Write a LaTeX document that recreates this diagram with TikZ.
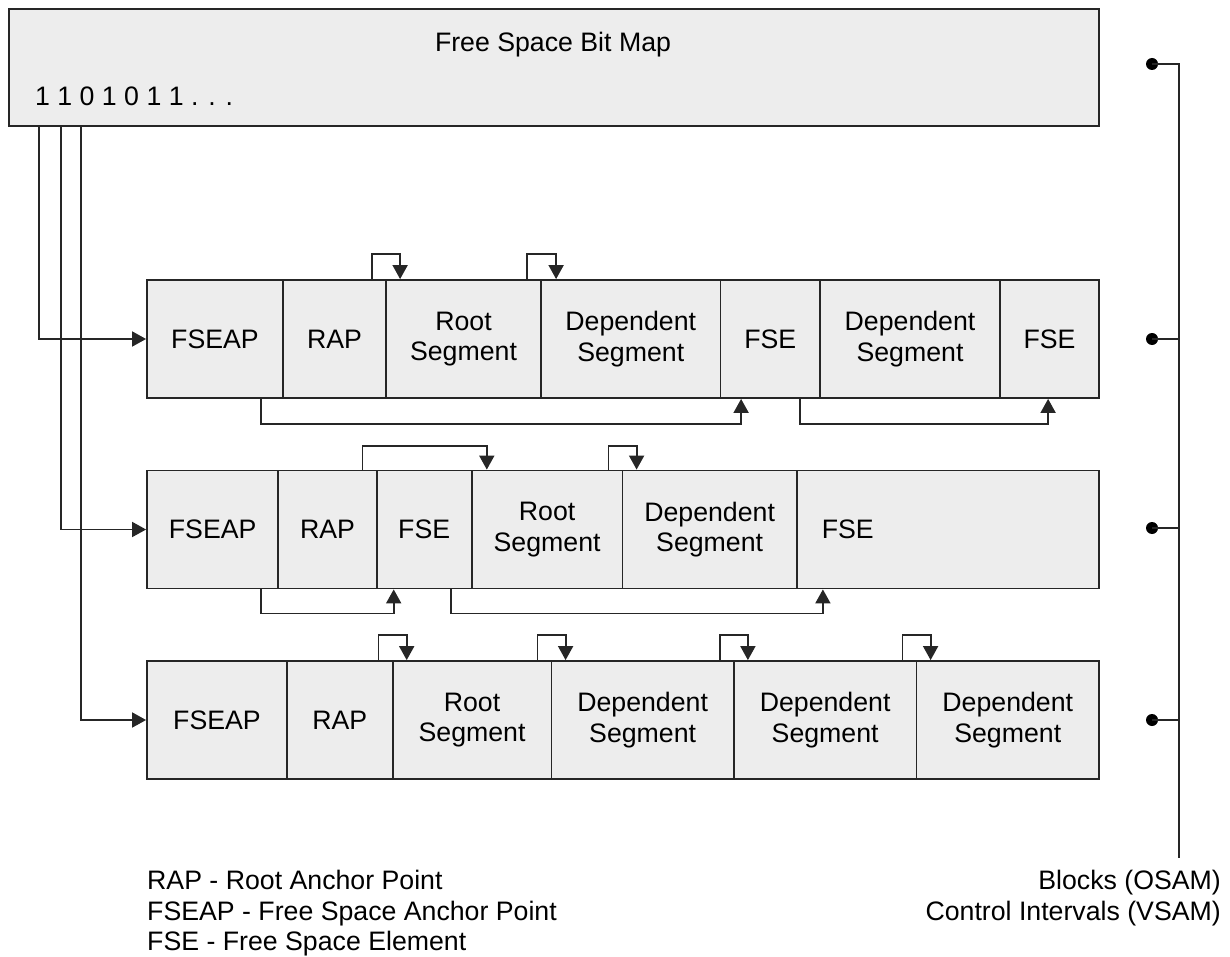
\documentclass[tikz,border=0pt]{standalone}
\usepackage{fontspec}
\setmainfont{Liberation Sans}
\usetikzlibrary{arrows.meta}
\definecolor{cellfill}{HTML}{EDEDED}
\definecolor{ink}{HTML}{262626}
\begin{document}
\begin{tikzpicture}[x=1pt,y=-1pt,
  every node/.style={font=\fontsize{26.7}{30.5}\selectfont, text=black},
  cell/.style={draw=ink, line width=1.8pt, fill=cellfill, inner sep=0pt,
               align=center, minimum height=118pt},
  link/.style={draw=ink, line width=1.8pt},
  arr/.style={link, -{Triangle[length=14pt,width=15pt]}},
  dot/.style={circle, fill=black, inner sep=0pt, minimum size=12pt},
]
\useasboundingbox (0,0) rectangle (1230,957);

% free space bit map
\node[cell, minimum width=1090pt, minimum height=117pt] (bitmap) at (554,67.5) {};
\node[anchor=base] (title) at (553,51.5) {Free Space Bit Map};
\node[anchor=base west, inner sep=0pt] (bits) at (35,106) {1 1 0 1 0 1 1 . . .};

% first block
\node[cell, minimum width=136pt]   (r1a) at (215,339)    {FSEAP};
\node[cell, minimum width=103pt]   (r1b) at (334.5,339)  {RAP};
\node[cell, minimum width=155pt]   (r1c) at (463.5,339)  {Root\\Segment};
\node[cell, minimum width=179.5pt] (r1d) at (630.75,339) {Dependent\\Segment};
\node[cell, minimum width=99.5pt]  (r1e) at (770.25,339) {FSE};
\node[cell, minimum width=180pt]   (r1f) at (910,339)    {Dependent\\Segment};
\node[cell, minimum width=99pt]    (r1g) at (1049.5,339) {FSE};

% second block
\node[cell, minimum width=131.3pt] (r2a) at (212.65,529.5) {FSEAP};
\node[cell, minimum width=98.3pt]  (r2b) at (327.45,529.5) {RAP};
\node[cell, minimum width=95.1pt]  (r2c) at (424.15,529.5) {FSE};
\node[cell, minimum width=150.8pt] (r2d) at (547.1,529.5)  {Root\\Segment};
\node[cell, minimum width=174.3pt] (r2e) at (709.65,529.5) {Dependent\\Segment};
\node[cell, minimum width=302.2pt, text width=252.2pt, inner xsep=25pt,
      align=left] (r2f) at (947.9,529.5) {FSE};

% third block
\node[cell, minimum width=140pt]   (r3a) at (217,720)     {FSEAP};
\node[cell, minimum width=105.6pt] (r3b) at (339.8,720)   {RAP};
\node[cell, minimum width=158.9pt] (r3c) at (472.05,720)  {Root\\Segment};
\node[cell, minimum width=182.3pt] (r3d) at (642.65,720)  {Dependent\\Segment};
\node[cell, minimum width=182.7pt] (r3e) at (825.15,720)  {Dependent\\Segment};
\node[cell, minimum width=182.5pt] (r3f) at (1007.75,720) {Dependent\\Segment};

% bit map feeds into each block
\draw[arr] ([xshift=31pt]bitmap.south west) |- (r1a.west);
\draw[arr] ([xshift=53pt]bitmap.south west) |- (r2a.west);
\draw[arr] ([xshift=73pt]bitmap.south west) |- (r3a.west);

% pointer chains above the blocks
\draw[arr] ([xshift=-15pt]r1b.north east) -- ++(0,-25) -| ([xshift=15pt]r1c.north west);
\draw[arr] ([xshift=-15pt]r1c.north east) -- ++(0,-25) -| ([xshift=16pt]r1d.north west);
\draw[arr] ([xshift=-15pt]r2b.north east) -- ++(0,-24) -| ([xshift=16pt]r2d.north west);
\draw[arr] ([xshift=-15pt]r2d.north east) -- ++(0,-24) -| ([xshift=15pt]r2e.north west);
\draw[arr] ([xshift=-15pt]r3b.north east) -- ++(0,-25) -| ([xshift=15pt]r3c.north west);
\draw[arr] ([xshift=-15pt]r3c.north east) -- ++(0,-25) -| ([xshift=15pt]r3d.north west);
\draw[arr] ([xshift=-15pt]r3d.north east) -- ++(0,-25) -| ([xshift=15pt]r3e.north west);
\draw[arr] ([xshift=-15pt]r3e.north east) -- ++(0,-25) -| ([xshift=15pt]r3f.north west);

% free space chains below the blocks
\draw[arr] ([xshift=-23pt]r1a.south east) -- ++(0,25) -| ([xshift=21.5pt]r1e.south west);
\draw[arr] ([xshift=-21pt]r1e.south east) -- ++(0,25) -| ([xshift=49pt]r1g.south west);
\draw[arr] ([xshift=-18pt]r2a.south east) -- ++(0,24) -| ([xshift=18pt]r2c.south west);
\draw[arr] ([xshift=-22pt]r2c.south east) -- ++(0,24) -| ([xshift=27pt]r2f.south west);

% blocks / control intervals bracket
\coordinate (bustop) at (1179,64);
\coordinate (busbot) at (1179,858);
\node[dot] (d0) at (1152,64)  {};
\node[dot] (d1) at (1152,339) {};
\node[dot] (d2) at (1152,528) {};
\node[dot] (d3) at (1152,720) {};
\draw[link] (d0.center) -- (bustop) -- (busbot);
\draw[link] (d1.center) -- (d1 -| bustop);
\draw[link] (d2.center) -- (d2 -| bustop);
\draw[link] (d3.center) -- (d3 -| bustop);

% legends
\node[anchor=north west, align=left, inner sep=0pt] (legend) at (147,870)
  {RAP - Root Anchor Point\\FSEAP - Free Space Anchor Point\\FSE - Free Space Element};
\node[anchor=north east, align=right, inner sep=0pt] (units) at (1221,870)
  {Blocks (OSAM)\\Control Intervals (VSAM)};
\end{tikzpicture}
\end{document}
